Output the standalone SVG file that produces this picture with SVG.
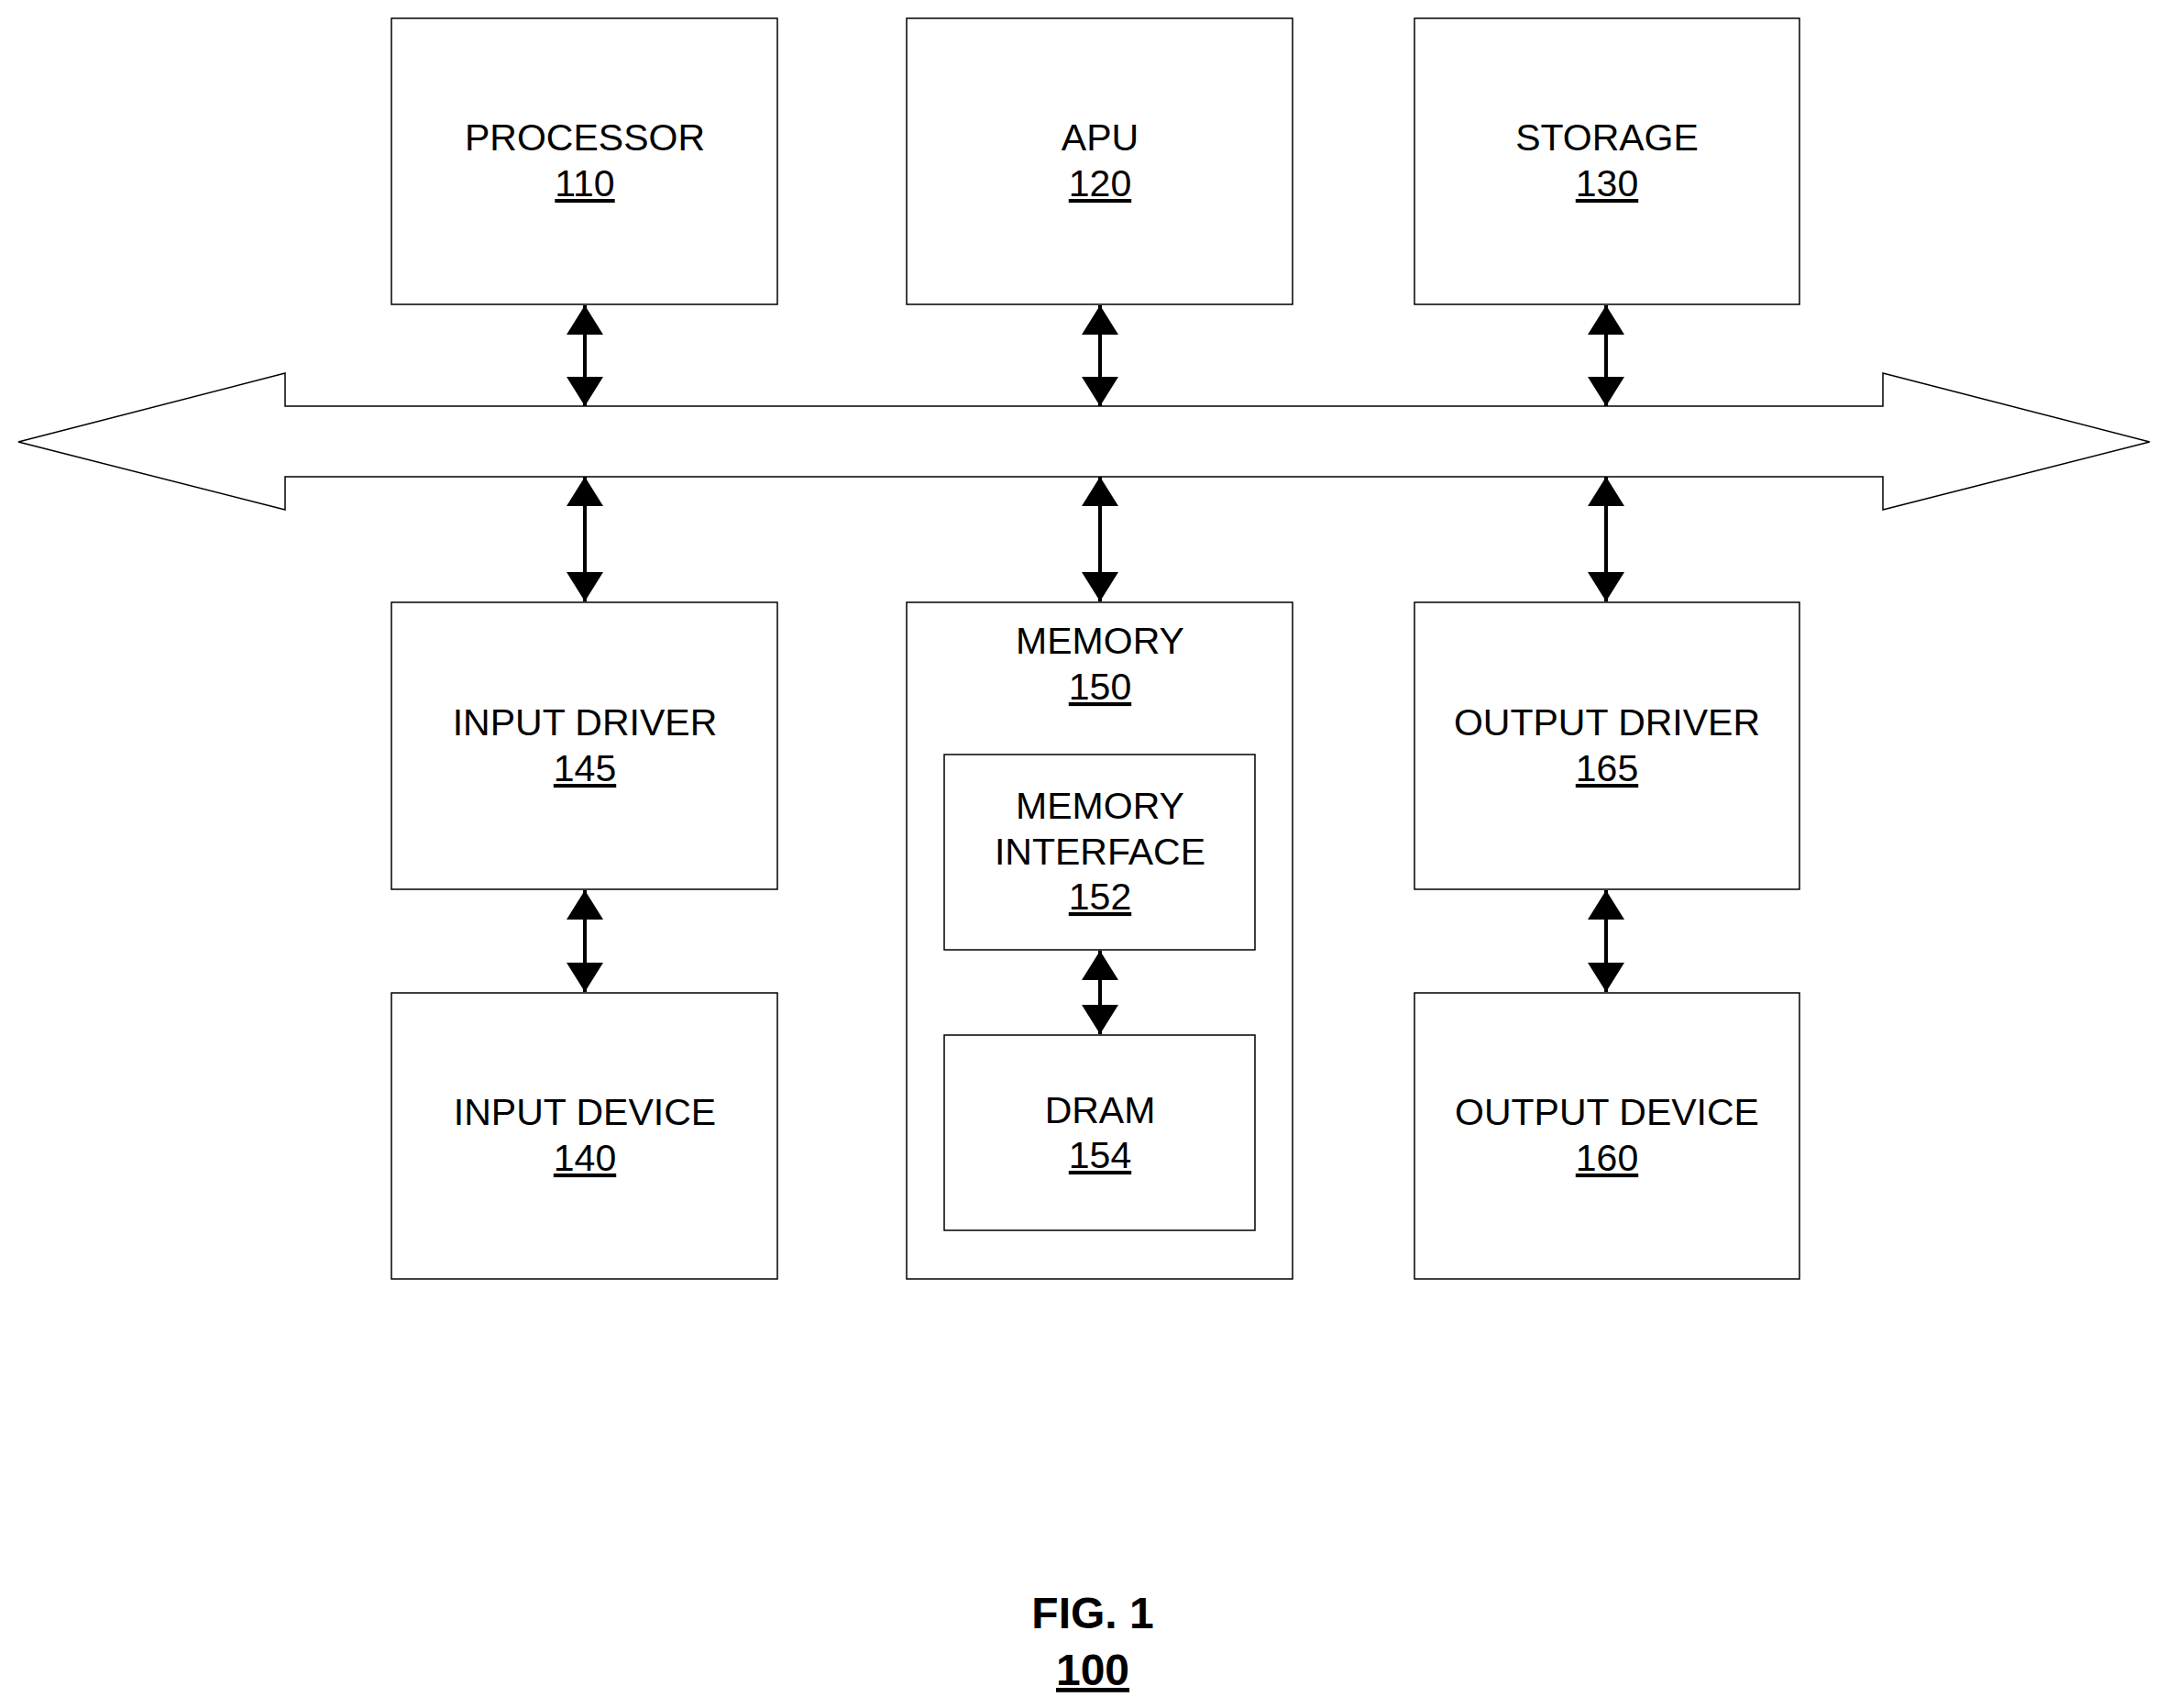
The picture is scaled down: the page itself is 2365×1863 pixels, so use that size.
<svg xmlns="http://www.w3.org/2000/svg" width="2365" height="1863" viewBox="0 0 2365 1863">
<style>
rect{fill:#fff;stroke:#000;stroke-width:1.5}
text{font-family:"Liberation Sans",Arial,sans-serif;font-size:41px;text-anchor:middle;fill:#000}
.u{text-decoration:underline}
.c{stroke:#000;stroke-width:4;marker-start:url(#h);marker-end:url(#h)}
.f{font-weight:bold;font-size:48px}
</style>
<defs><marker id="h" viewBox="0 0 10 10" refX="10" refY="5" markerWidth="8" markerHeight="10" markerUnits="strokeWidth" orient="auto-start-reverse" preserveAspectRatio="none"><path d="M0,0L10,5L0,10z" fill="#000"/></marker></defs>
<rect width="2365" height="1863" style="stroke:none"/>
<g id="bus"><path d="M20,482L311,407V443H2054V407L2345,482L2054,556V520H311V556Z" fill="#fff" stroke="#000" stroke-width="1.5"/></g>
<g id="processor"><rect x="427" y="20" width="421" height="312"/><text x="638" y="164">PROCESSOR</text><text x="638" y="214" class="u">110</text></g>
<g id="apu"><rect x="989" y="20" width="421" height="312"/><text x="1200" y="164">APU</text><text x="1200" y="214" class="u">120</text></g>
<g id="storage"><rect x="1543" y="20" width="420" height="312"/><text x="1753" y="164">STORAGE</text><text x="1753" y="214" class="u">130</text></g>
<g id="inputdriver"><rect x="427" y="657" width="421" height="313"/><text x="638" y="802">INPUT DRIVER</text><text x="638" y="852" class="u">145</text></g>
<g id="inputdevice"><rect x="427" y="1083" width="421" height="312"/><text x="638" y="1227">INPUT DEVICE</text><text x="638" y="1277" class="u">140</text></g>
<g id="memory"><rect x="989" y="657" width="421" height="738"/><text x="1200" y="713">MEMORY</text><text x="1200" y="763" class="u">150</text></g>
<g id="meminterface"><rect x="1030" y="823" width="339" height="213"/><text x="1200" y="893">MEMORY</text><text x="1200" y="943">INTERFACE</text><text x="1200" y="992" class="u">152</text></g>
<g id="dram"><rect x="1030" y="1129" width="339" height="213"/><text x="1200" y="1225">DRAM</text><text x="1200" y="1274" class="u">154</text></g>
<g id="outputdriver"><rect x="1543" y="657" width="420" height="313"/><text x="1753" y="802">OUTPUT DRIVER</text><text x="1753" y="852" class="u">165</text></g>
<g id="outputdevice"><rect x="1543" y="1083" width="420" height="312"/><text x="1753" y="1227">OUTPUT DEVICE</text><text x="1753" y="1277" class="u">160</text></g>
<g id="connectors">
<line class="c" x1="638" y1="333" x2="638" y2="443"/>
<line class="c" x1="1200" y1="333" x2="1200" y2="443"/>
<line class="c" x1="1752" y1="333" x2="1752" y2="443"/>
<line class="c" x1="638" y1="520" x2="638" y2="656"/>
<line class="c" x1="1200" y1="520" x2="1200" y2="656"/>
<line class="c" x1="1752" y1="520" x2="1752" y2="656"/>
<line class="c" x1="638" y1="971" x2="638" y2="1082"/>
<line class="c" x1="1752" y1="971" x2="1752" y2="1082"/>
<line class="c" x1="1200" y1="1037" x2="1200" y2="1128"/>
</g>
<g id="caption"><text x="1192" y="1776" class="f">FIG. 1</text><text x="1192" y="1838" class="f u">100</text></g>
</svg>
